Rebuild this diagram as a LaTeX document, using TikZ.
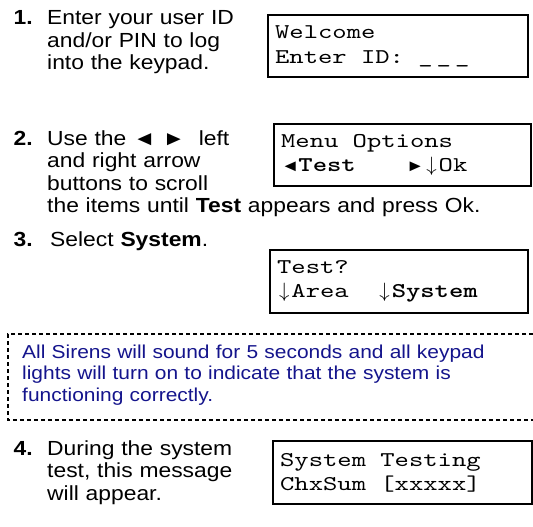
\documentclass[tikz,border=0pt]{standalone}
\usepackage{fontspec}
\setmainfont{Liberation Sans}[FakeStretch=1.12]
\setmonofont{lmmono10-regular.otf}[BoldFont=lmmonolt10-bold.otf, FakeStretch=1.3]
\usetikzlibrary{positioning}
\definecolor{notenavy}{HTML}{14148C}
% keypad display: one character cell, a blank cell, a centred glyph in a cell
\newlength{\lcdcell}
\setlength{\lcdcell}{14.33pt}
\newcommand{\lsp}{\hspace*{\lcdcell}}
\newcommand{\lcdch}[1]{\makebox[\lcdcell][c]{#1}}
\newcommand{\lcdsym}[1]{\makebox[\lcdcell][l]{\rmfamily\mdseries\fontsize{16.5}{18}\selectfont #1}}
\tikzset{
  num/.style={anchor=base west, inner sep=0pt, font=\fontsize{20.4}{22.5}\selectfont\bfseries},
  txt/.style={anchor=base west, inner sep=0pt, align=left, text width=470pt, font=\fontsize{20.4}{22.5}\selectfont},
  lcd/.style={draw, line width=2.2pt, anchor=north west, minimum height=62pt, inner xsep=7pt, align=left,
    font=\fontsize{21}{24.5}\selectfont\ttfamily},
  note/.style={anchor=base west, inner sep=0pt, align=left, text width=504pt, text=notenavy,
    font=\fontsize{18.7}{21.5}\selectfont},
  notefr/.style={line width=2pt, dash pattern=on 4pt off 3pt},
}
\begin{document}
\begin{tikzpicture}[x=1pt, y=-1pt]
    \useasboundingbox (0,0) rectangle (533,527);
    % step 1
    \node[num] (n1) at (13.5,25) {1.};
    \node[txt] (t1) at (47,25) {Enter your user ID\\and/or PIN to log\\into the keypad.};
    \node[lcd, text width=246pt] (lcd1) at (267,14) {Welcome\\Enter\lsp ID:\lsp\_\hspace{4pt}\_\hspace{4pt}\_};
    % step 2
    \node[num] (n2) at (13.5,145) {2.};
    \node[txt] (t2) at (47,145) {Use the ◄ ►\ \ left\\and right arrow\\buttons to scroll\\the items until \textbf{Test} appears and press Ok.};
    \node[lcd, text width=243pt] (lcd2) at (273,123) {Menu\lsp Options\\\lcdsym{◄}\hspace{3pt}\textbf{Test}\hspace{\dimexpr4\lcdcell-7pt\relax}\lcdsym{►}\hspace{4pt}\lcdch{$\downarrow$}Ok};
    % step 3
    \node[num] (n3) at (13.5,246) {3.};
    \node[txt] (t3) at (50,246) {Select \textbf{System}.};
    \node[lcd, text width=244pt, minimum height=63pt] (lcd3) at (269,249) {Test?\\\lcdch{$\downarrow$}Area\lsp\lsp\lcdch{$\downarrow$}\textbf{System}};
    % note
    \node[note] (nt) at (22,358) {\makebox[\linewidth][s]{All Sirens will sound for 5 seconds and all keypad}\\
      \makebox[\linewidth][s]{lights will turn on to indicate that the system is}\\functioning correctly.};
    \draw[notefr] (533,334) -| (8,420) -- (533,420);
    % step 4
    \node[num] (n4) at (13.5,455) {4.};
    \node[txt] (t4) at (47,455) {During the system\\test, this message\\will appear.};
    \node[lcd, text width=245pt, minimum height=63pt] (lcd4) at (272,440) {System\lsp Testing\\ChxSum\lsp[xxxxx]};
\end{tikzpicture}
\end{document}
